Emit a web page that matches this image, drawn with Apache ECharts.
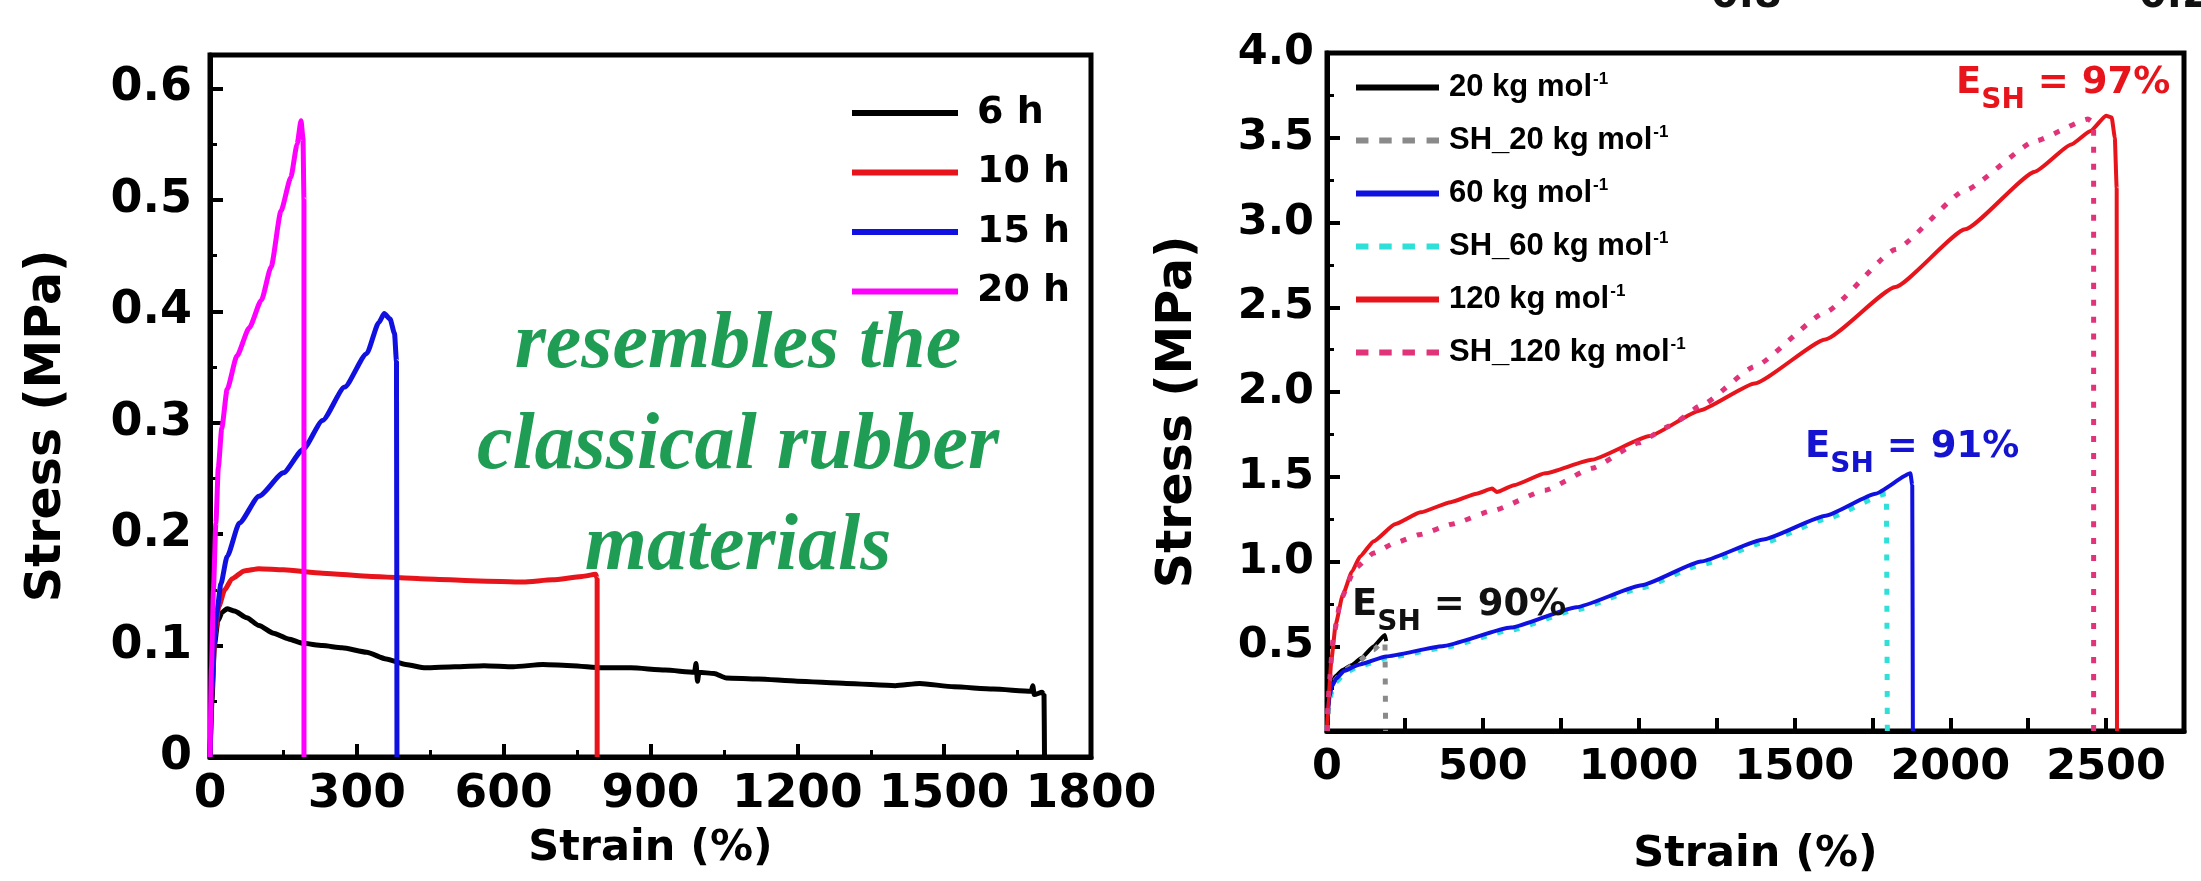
<!DOCTYPE html>
<html><head><meta charset="utf-8">
<script src="https://cdn.jsdelivr.net/npm/echarts@6/dist/echarts.min.js"></script>
<style>html,body{margin:0;padding:0;background:#fff;}#c{width:2201px;height:881px;}</style>
</head><body><div id="c"></div>
<script>
// ---------- data: left panel (Stress vs Strain, reaction time) ----------
const leftNames = ['6 h', '10 h', '15 h', '20 h'];
const leftColors = ['#000000', '#e8141b', '#1010e0', '#ff00ff'];
const curve6h = [[0,0],[4,0.05],[9,0.1],[16,0.122],[25,0.13],[35,0.133],[50,0.131],[75,0.125],[100,0.118],[130,0.111],[160,0.106],[190,0.102],[230,0.1],[270,0.098],[320,0.094],[360,0.088],[400,0.083],[440,0.080],[500,0.081],[560,0.082],[620,0.081],[680,0.083],[740,0.082],[800,0.080],[860,0.080],[930,0.078],[990,0.076],[993,0.084],[996,0.068],[999,0.076],[1030,0.075],[1055,0.071],[1120,0.070],[1200,0.068],[1300,0.066],[1400,0.064],[1450,0.066],[1520,0.063],[1600,0.061],[1678,0.059],[1681,0.064],[1684,0.056],[1700,0.058],[1704,0.056],[1705,0]];
const curve10h = [[0,0],[4,0.06],[10,0.11],[18,0.135],[30,0.15],[45,0.16],[70,0.167],[100,0.169],[150,0.168],[230,0.165],[330,0.162],[430,0.160],[550,0.158],[640,0.157],[700,0.159],[760,0.162],[788,0.164],[791,0.16],[791,0]];
const curve15h = [[0,0],[4,0.06],[8,0.1],[14,0.13],[22,0.155],[35,0.18],[60,0.21],[100,0.234],[150,0.255],[190,0.276],[230,0.302],[275,0.332],[320,0.362],[345,0.39],[356,0.398],[368,0.393],[377,0.38],[381,0.355],[382,0]];
const curve20h = [[0,0],[3,0.08],[7,0.15],[12,0.21],[17,0.26],[24,0.295],[35,0.33],[55,0.36],[80,0.385],[105,0.41],[125,0.44],[145,0.49],[165,0.52],[178,0.55],[186,0.571],[190,0.555],[192,0.5],[192,0]];
const leftCurves = [curve6h, curve10h, curve15h, curve20h];
const leftXTicks = {min: 0, max: 1800, step: 300};
const leftYTicks = {min: 0, max: 0.63, step: 0.1};

// ---------- data: right panel (molecular weight, self-healed) ----------
const rightNames = ['20 kg mol⁻¹', 'SH_20 kg mol⁻¹', '60 kg mol⁻¹', 'SH_60 kg mol⁻¹', '120 kg mol⁻¹', 'SH_120 kg mol⁻¹'];
const rightColors = ['#000000', '#8a8a8a', '#1010e0', '#2ee0d8', '#e8141b', '#e0337a'];
const rightDotted = [false, true, false, true, false, true];
const curve20kg = [[0,0],[4,0.15],[10,0.25],[25,0.32],[50,0.36],[80,0.39],[110,0.43],[150,0.5],[186,0.567],[190,0.53]];
const curveSH20kg = [[0,0],[6,0.18],[20,0.29],[50,0.35],[100,0.41],[150,0.48],[180,0.53],[186,0.52],[188,0]];
const curve60kg = [[0,0],[3,0.12],[8,0.2],[15,0.26],[30,0.31],[55,0.355],[100,0.39],[190,0.44],[370,0.5],[590,0.61],[800,0.73],[1010,0.86],[1200,1.0],[1400,1.13],[1600,1.27],[1760,1.40],[1872,1.52],[1878,1.45],[1880,0]];
const curveSH60kg = [[0,0],[3,0.1],[8,0.17],[15,0.23],[30,0.29],[55,0.34],[100,0.38],[190,0.43],[370,0.49],[590,0.595],[800,0.715],[1010,0.845],[1200,0.98],[1400,1.11],[1600,1.25],[1795,1.40],[1798,0]];
const curve120kg = [[0,0],[6,0.22],[14,0.42],[28,0.63],[50,0.8],[80,0.94],[106,1.03],[150,1.12],[218,1.22],[300,1.29],[397,1.35],[480,1.40],[530,1.43],[545,1.41],[600,1.45],[700,1.52],[849,1.60],[1035,1.74],[1195,1.89],[1372,2.05],[1599,2.31],[1824,2.62],[2048,2.96],[2272,3.3],[2388,3.46],[2450,3.54],[2500,3.63],[2518,3.62],[2528,3.5],[2534,3.2],[2535,0]];
const curveSH120kg = [[0,0],[8,0.3],[20,0.55],[45,0.78],[90,0.96],[150,1.05],[218,1.11],[300,1.16],[400,1.22],[532,1.30],[700,1.42],[850,1.55],[1000,1.70],[1100,1.80],[1200,1.92],[1372,2.15],[1599,2.47],[1824,2.84],[2048,3.19],[2272,3.48],[2442,3.61],[2460,3.59],[2460,0]];
const rightCurves = [curve20kg, curveSH20kg, curve60kg, curveSH60kg, curve120kg, curveSH120kg];
const rightDrawOrder = [0, 1, 3, 2, 4, 5];
const rightXTicks = {min: 0, max: 2750, step: 250, labelStep: 500};
const rightYTicks = {min: 0, max: 4, step: 0.5};

// ---------- text ----------
const axisNameX = 'Strain (%)';
const axisNameY = 'Stress (MPa)';
const noteLines = ['resembles the', 'classical rubber', 'materials'];
const eshLabels = [
  {value: '97%', color: '#e8141b', x: 1956, base: 98},
  {value: '91%', color: '#1414d0', x: 1805, base: 462},
  {value: '90%', color: '#111111', x: 1352, base: 620}
];
const topFragments = [{t: '0.8', x: 1711}, {t: '0.2', x: 2139}];

const FONT = '"DejaVu Sans", sans-serif';
const ARIAL = '"Liberation Sans", Arial, sans-serif';
const SOLID_ICON = 'path://M0,0H100V6H0Z';
const DOT_ICON = 'path://M0,0H15V6H0Z M28,0H43V6H28Z M56,0H71V6H56Z M85,0H100V6H85Z';
const chart = echarts.init(document.getElementById('c'), null, {renderer: 'canvas'});

function axisBase(extra) {
  return Object.assign({
    type: 'value',
    axisLine: {show: true, onZero: false, lineStyle: {color: '#000', width: 5}},
    axisTick: {show: true, inside: true, length: 13, lineStyle: {color: '#000', width: 4}},
    minorTick: {show: true, splitNumber: 2, length: 7, lineStyle: {color: '#000', width: 3}},
    splitLine: {show: false},
    nameTextStyle: {color: '#000', fontFamily: FONT, fontWeight: 'bold', fontSize: 43},
    nameLocation: 'middle'
  }, extra);
}
const lbl = (extra) => Object.assign({color: '#000', fontFamily: FONT, fontWeight: 'bold', fontSize: 43}, extra);
const near = (v, step) => Math.abs(v / step - Math.round(v / step)) < 1e-6;

const series = [];
leftCurves.forEach((c, i) => series.push({
  name: leftNames[i], type: 'line', xAxisIndex: 0, yAxisIndex: 0, data: c,
  symbol: 'none', smooth: 0.2, smoothMonotone: 'x',
  lineStyle: {color: leftColors[i], width: 5}, itemStyle: {color: leftColors[i]}
}));
rightDrawOrder.forEach(i => series.push({
  name: rightNames[i], type: 'line', xAxisIndex: 1, yAxisIndex: 1, data: rightCurves[i],
  symbol: 'none', smooth: 0.15, smoothMonotone: 'x',
  lineStyle: {color: rightColors[i], width: rightDotted[i] ? 5 : 4, type: rightDotted[i] ? [6, 11] : 'solid'},
  itemStyle: {color: rightColors[i]}
}));

const graphics = [];
graphics.push({
  type: 'text', x: 738, y: 296, z: 10,
  style: {text: noteLines.join('\n'), fill: '#1f9d55', align: 'center', verticalAlign: 'top',
    font: 'italic bold 80px "Liberation Serif", serif', lineHeight: 101}
});
eshLabels.forEach(l => graphics.push({
  type: 'text', x: l.x, y: l.base - 33, z: 10,
  style: {
    text: '{e|E}{s|SH}{e| = ' + l.value + '}', align: 'left', verticalAlign: 'top',
    rich: {
      e: {fontFamily: FONT, fontWeight: 'bold', fontSize: 37, lineHeight: 40, fill: l.color, verticalAlign: 'top'},
      s: {fontFamily: FONT, fontWeight: 'bold', fontSize: 28, lineHeight: 28, fill: l.color, padding: [22, 0, 0, 0], verticalAlign: 'top'}
    }
  }
}));
topFragments.forEach(f => graphics.push({
  type: 'text', x: f.x, y: -3, z: 10,
  style: {text: f.t, fill: '#111', font: 'bold 40px ' + FONT, align: 'left', verticalAlign: 'middle'}
}));

chart.setOption({
  animation: false,
  backgroundColor: '#fff',
  grid: [
    {left: 210, top: 55, width: 881, height: 702, show: true, borderColor: '#000', borderWidth: 5},
    {left: 1327, top: 53, width: 857, height: 692, show: true, borderColor: '#000', borderWidth: 5}
  ],
  xAxis: [
    axisBase({gridIndex: 0, min: leftXTicks.min, max: leftXTicks.max, interval: leftXTicks.step, name: axisNameX, nameGap: 70,
      axisLabel: lbl({fontSize: 47, margin: 14, formatter: v => String(v)})}),
    axisBase({gridIndex: 1, min: rightXTicks.min, max: rightXTicks.max, interval: rightXTicks.step, name: axisNameX, nameGap: 102,
      minorTick: {show: false},
      axisLabel: lbl({margin: 15, formatter: v => near(v, rightXTicks.labelStep) ? String(v) : ''}),
      axisTick: {show: true, inside: true, length: 13, lineStyle: {color: '#000', width: 4}, interval: 0}})
  ],
  yAxis: [
    axisBase({gridIndex: 0, min: leftYTicks.min, max: leftYTicks.max, interval: leftYTicks.step, name: axisNameY, nameGap: 138,
      nameTextStyle: {color: '#000', fontFamily: FONT, fontWeight: 'bold', fontSize: 49, padding: [0, 40, 0, 0]},
      axisLabel: lbl({fontSize: 46, margin: 18, formatter: v => near(v, leftYTicks.step) ? (v === 0 ? '0' : v.toFixed(1)) : ''})}),
    axisBase({gridIndex: 1, min: rightYTicks.min, max: rightYTicks.max, interval: rightYTicks.step, name: axisNameY, nameGap: 124,
      nameTextStyle: {color: '#000', fontFamily: FONT, fontWeight: 'bold', fontSize: 49, padding: [0, 40, 0, 0]},
      axisLabel: lbl({margin: 13, formatter: v => (v > 0 && near(v, rightYTicks.step)) ? v.toFixed(1) : ''})})
  ],
  legend: [
    {data: leftNames.map(n => ({name: n, icon: SOLID_ICON})), orient: 'vertical', left: 852, top: 94, padding: 0,
      itemWidth: 106, itemHeight: 6, itemGap: 21.5, symbolKeepAspect: false,
      textStyle: {color: '#000', fontFamily: FONT, fontWeight: 'bold', fontSize: 38, lineHeight: 38, padding: [0, 0, 0, 14]}},
    {data: rightNames.map((n, i) => ({name: n, icon: rightDotted[i] ? DOT_ICON : SOLID_ICON})),
      orient: 'vertical', left: 1356, top: 71, padding: 0,
      itemWidth: 83, itemHeight: 6, itemGap: 20, symbolKeepAspect: false,
      formatter: n => '{b|' + n.replace('⁻¹', '') + '}{sup|-1}',
      textStyle: {color: '#000', fontFamily: ARIAL, fontWeight: 'bold', fontSize: 31, lineHeight: 33, padding: [0, 0, 0, 5],
        rich: {
          b: {color: '#000', fontFamily: ARIAL, fontWeight: 'bold', fontSize: 31, lineHeight: 33, verticalAlign: 'middle'},
          sup: {color: '#000', fontFamily: ARIAL, fontWeight: 'bold', fontSize: 17, lineHeight: 17, verticalAlign: 'top', padding: [0, 0, 14, 1]}
        }}}
  ],
  series: series,
  graphic: graphics
});
</script></body></html>
